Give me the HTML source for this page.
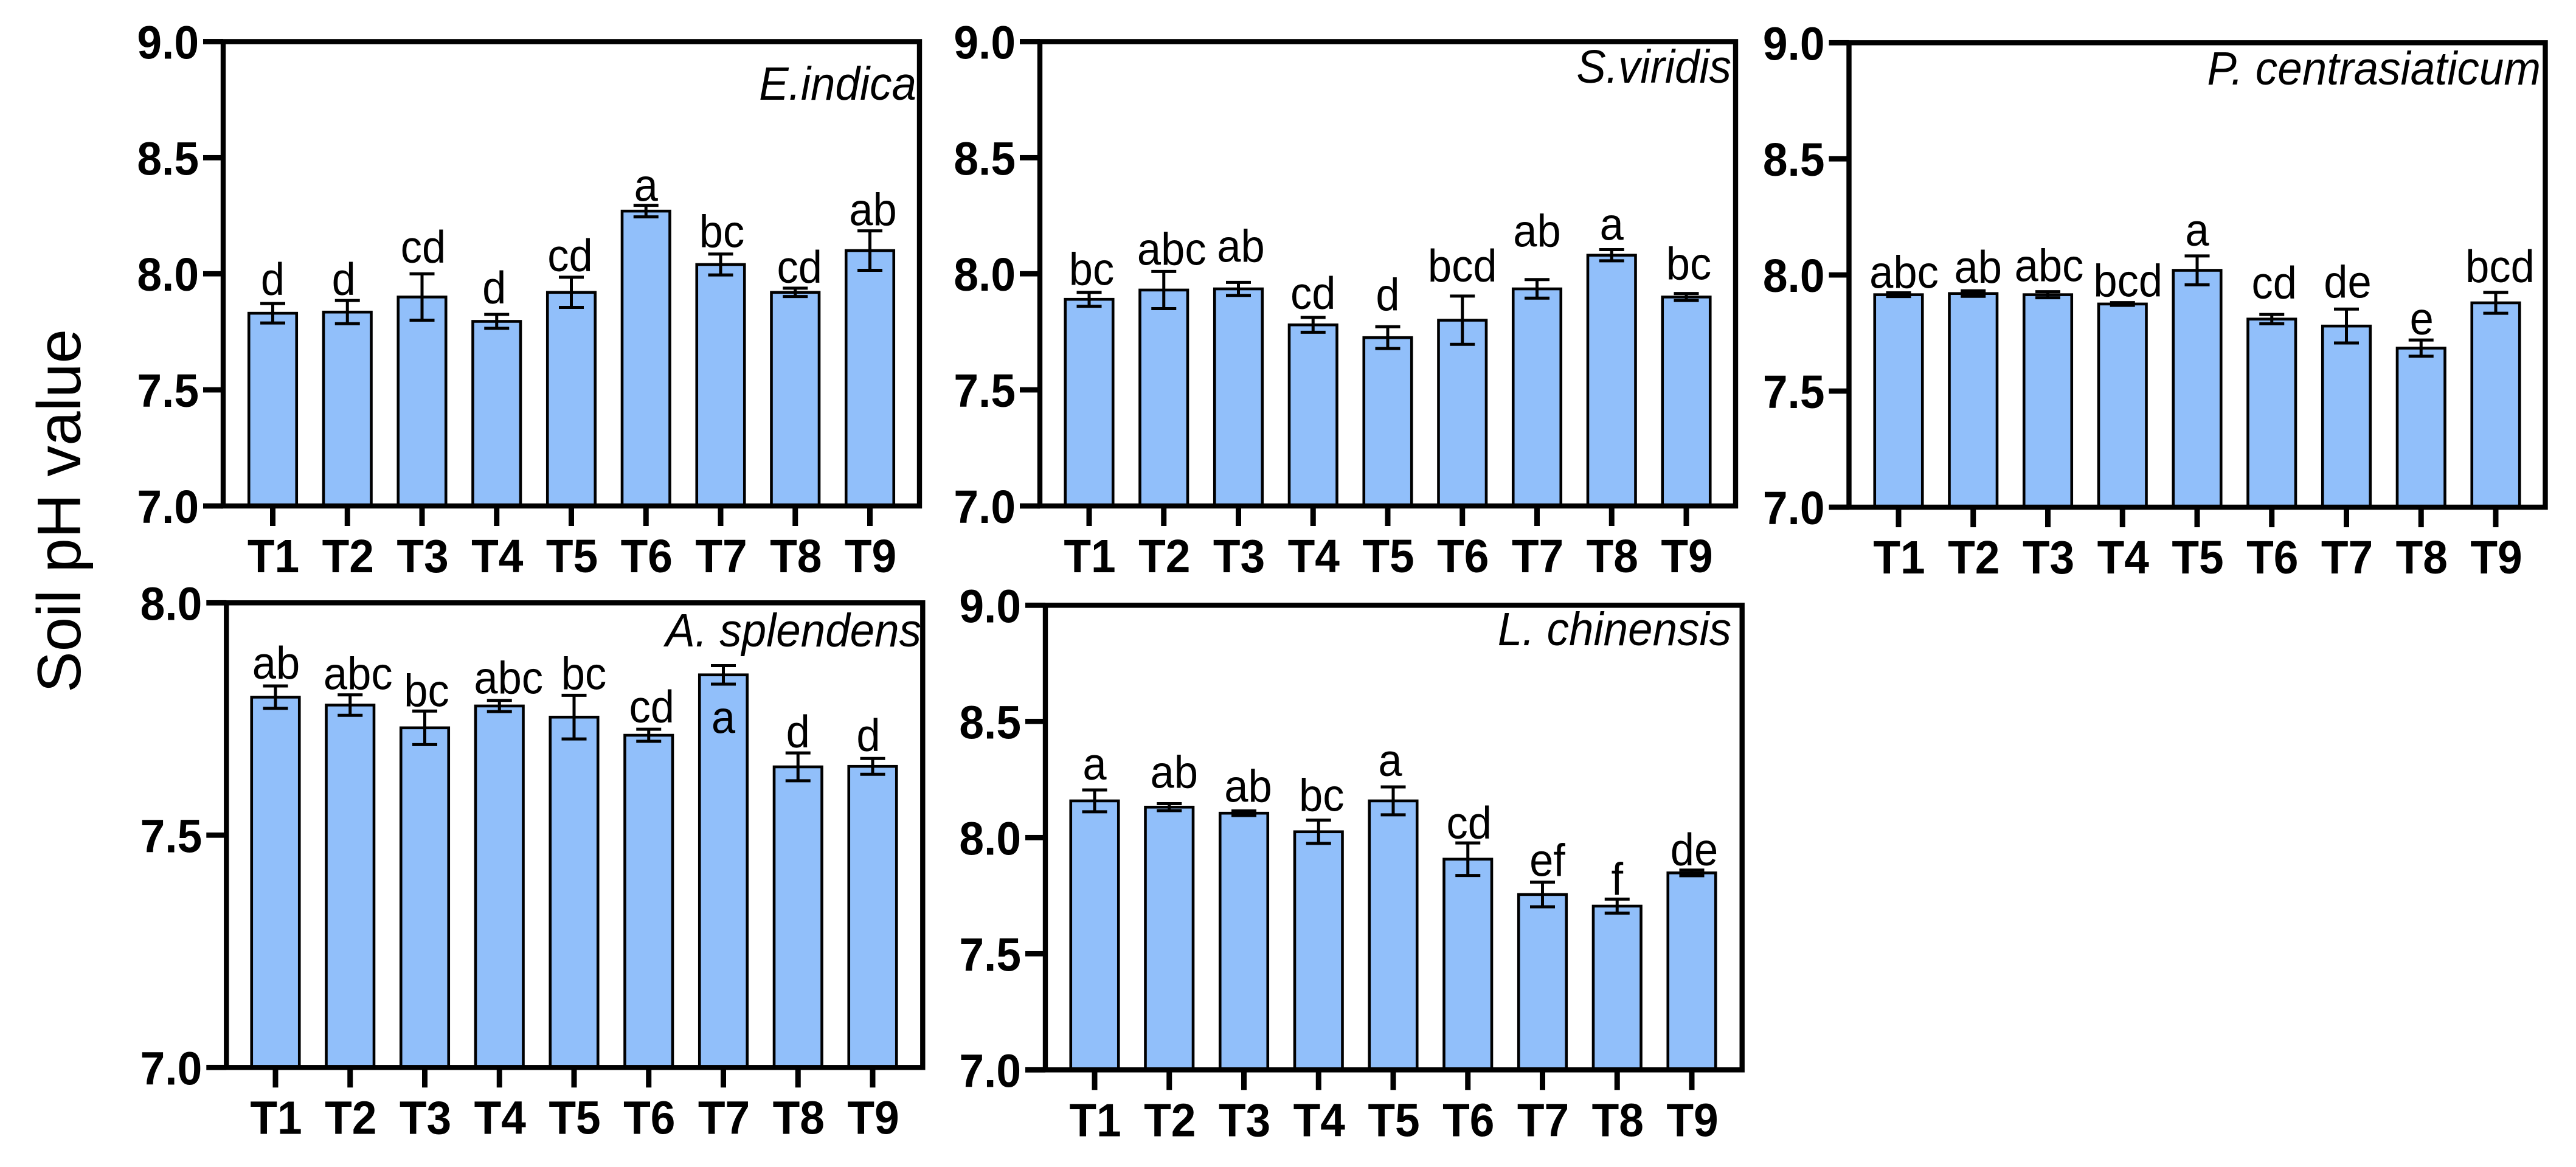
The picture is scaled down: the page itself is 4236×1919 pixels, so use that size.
<!DOCTYPE html>
<html lang="en">
<head>
<meta charset="utf-8">
<title>Soil pH value by treatment</title>
<style>
  html, body { margin: 0; padding: 0; background: #ffffff; }
  body { width: 4236px; height: 1919px; overflow: hidden; }
  svg { display: block; font-family: "Liberation Sans", Arial, sans-serif; }
</style>
</head>
<body>
<svg id="figure" xmlns="http://www.w3.org/2000/svg" width="4236" height="1919" viewBox="0 0 4236 1919">
  <rect x="0" y="0" width="4236" height="1919" fill="#ffffff"/>
  <text transform="translate(132 1139) rotate(-90)" font-size="101.5" fill="#000">Soil pH value</text>
</svg>
<script>
const categories = ['T1', 'T2', 'T3', 'T4', 'T5', 'T6', 'T7', 'T8', 'T9'];

const ticksNineTop = ['7.0', '7.5', '8.0', '8.5', '9.0'];
const ticksEightTop = ['7.0', '7.5', '8.0'];

const eindicaMeans = [7.83, 7.835, 7.90, 7.795, 7.92, 8.27, 8.04, 7.92, 8.10];
const eindicaErrors = [0.042, 0.05, 0.10, 0.03, 0.065, 0.025, 0.045, 0.018, 0.085];
const eindicaLetters = ['d', 'd', 'cd', 'd', 'cd', 'a', 'bc', 'cd', 'ab'];
const eindicaLetterGaps = [14, 9, 18, 18, 10, 7, 11, 9, 9];
const eindicaLetterShifts = [0, -6, 2, -4, -2, 0, 2, 7, 5];

const sviridisMeans = [7.89, 7.93, 7.935, 7.78, 7.725, 7.80, 7.935, 8.08, 7.90];
const sviridisErrors = [0.03, 0.08, 0.028, 0.032, 0.047, 0.104, 0.04, 0.024, 0.015];
const sviridisLetters = ['bc', 'abc', 'ab', 'cd', 'd', 'bcd', 'ab', 'a', 'bc'];
const sviridisLetterGaps = [12, 11, 34, 14, 27, 24, 54, 16, 23];
const sviridisLetterShifts = [4, 13, 4, 0, 0, 0, 0, 0, 4];

const pcentrasiaticumMeans = [7.915, 7.92, 7.915, 7.875, 8.02, 7.81, 7.78, 7.685, 7.88];
const pcentrasiaticumErrors = [0.008, 0.012, 0.013, 0.006, 0.062, 0.02, 0.073, 0.035, 0.045];
const pcentrasiaticumLetters = ['abc', 'ab', 'abc', 'bcd', 'a', 'cd', 'de', 'e', 'bcd'];
const pcentrasiaticumLetterGaps = [8, 13, 17, 10, 17, 26, 19, 9, 17];
const pcentrasiaticumLetterShifts = [9, 8, 2, 9, 0, 4, 2, 1, 7];

const asplendensMeans = [7.797, 7.78, 7.731, 7.778, 7.754, 7.715, 7.845, 7.647, 7.648];
const asplendensErrors = [0.024, 0.022, 0.036, 0.012, 0.047, 0.013, 0.02, 0.03, 0.017];
const asplendensLetters = ['ab', 'abc', 'bc', 'abc', 'bc', 'cd', 'a', 'd', 'd'];
const asplendensLetterGaps = [12, 9, 8, 11, 10, 11, -111, 9, 12];
const asplendensLetterShifts = [1, 13, 3, 15, 16, 5, 0, 0, -7];

const lchinensisMeans = [8.158, 8.131, 8.105, 8.025, 8.158, 7.907, 7.755, 7.705, 7.848];
const lchinensisErrors = [0.047, 0.015, 0.01, 0.05, 0.06, 0.07, 0.053, 0.03, 0.012];
const lchinensisLetters = ['a', 'ab', 'ab', 'bc', 'a', 'cd', 'ef', 'f', 'de'];
const lchinensisLetterGaps = [17, 26, 15, 15, 18, 7, 10, 7, 8];
const lchinensisLetterShifts = [0, 8, 7, 5, -5, 2, 8, 0, 4];

const barFill = '#91bffa';
const ns = 'http://www.w3.org/2000/svg';
const svg = document.getElementById('figure');

function make(parent, tag, attrs, text) {
  const el = document.createElementNS(ns, tag);
  for (const k in attrs) el.setAttribute(k, attrs[k]);
  if (text !== undefined) el.textContent = text;
  parent.appendChild(el);
  return el;
}

function squeezed(x, y, sx) {
  return 'translate(' + x + ' ' + y + ') scale(' + sx + ' 1)';
}

function drawPanel(cfg) {
  const g = make(svg, 'g', {});
  
  

  const yMin = Number(cfg.ticks[0]);
  const yMax = Number(cfg.ticks[cfg.ticks.length - 1]);
  const xPos = i => cfg.firstX + i * cfg.step;
  const yPos = v => cfg.bottom - (v - yMin) / (yMax - yMin) * (cfg.bottom - cfg.top);

  cfg.means.forEach((m, i) => {
    const x = xPos(i);
    const yTop = yPos(m);
    const bar = make(g, 'rect', {
      x: x - 39.25, y: yTop, width: 78.5, height: cfg.bottom - yTop,
      fill: barFill, stroke: '#000', 'stroke-width': 4.6
    });
    
    

    const hi = yPos(m + cfg.errors[i]);
    const lo = yPos(m - cfg.errors[i]);
    const err = make(g, 'path', {
      d: 'M' + (x - 20.5) + ' ' + hi + 'H' + (x + 20.5) +
         'M' + x + ' ' + hi + 'V' + lo +
         'M' + (x - 20.5) + ' ' + lo + 'H' + (x + 20.5),
      fill: 'none', stroke: '#000', 'stroke-width': 5
    });
    
    

    const letter = make(g, 'text', {
      transform: squeezed(x + cfg.shifts[i], hi - cfg.gaps[i], 0.94),
      'font-size': 75, 'text-anchor': 'middle', fill: '#000'
    }, cfg.letters[i]);
    
    

    const tick = make(g, 'rect', {
      x: x - 4.5, y: cfg.bottom, width: 9, height: 33, fill: '#000'
    });
    
    

    const label = make(g, 'text', {
      transform: squeezed(x + 1, cfg.bottom + 109, 0.95),
      'font-size': 77, 'font-weight': 'bold', 'text-anchor': 'middle', fill: '#000'
    }, categories[i]);
    
    
  });

  cfg.ticks.forEach(t => {
    const y = yPos(Number(t));
    const tick = make(g, 'rect', {
      x: cfg.left - 33, y: y - 4.35, width: 33, height: 8.7, fill: '#000'
    });
    
    

    const label = make(g, 'text', {
      transform: squeezed(cfg.left - 40, y + 28, 0.95),
      'font-size': 77, 'font-weight': 'bold', 'text-anchor': 'end', fill: '#000'
    }, t);
    
    
  });

  const frame = make(g, 'rect', {
    x: cfg.left, y: cfg.top, width: cfg.right - cfg.left, height: cfg.bottom - cfg.top,
    fill: 'none', stroke: '#000', 'stroke-width': 8.4, 'stroke-linejoin': 'miter'
  });
  
  

  const title = make(g, 'text', {
    transform: squeezed(cfg.titleX, cfg.titleY, 0.945),
    'font-size': 77, 'font-style': 'italic', 'text-anchor': 'end', fill: '#000'
  }, cfg.title);
  
  
}

drawPanel({ key: 'e-indica', title: 'E.indica', ticks: ticksNineTop,
  means: eindicaMeans, errors: eindicaErrors, letters: eindicaLetters, gaps: eindicaLetterGaps, shifts: eindicaLetterShifts,
  left: 367, right: 1512, top: 68.4, bottom: 832, firstX: 448.5, step: 122.75, titleX: 1507, titleY: 164 });

drawPanel({ key: 's-viridis', title: 'S.viridis', ticks: ticksNineTop,
  means: sviridisMeans, errors: sviridisErrors, letters: sviridisLetters, gaps: sviridisLetterGaps, shifts: sviridisLetterShifts,
  left: 1710, right: 2854, top: 68.4, bottom: 832, firstX: 1791, step: 122.75, titleX: 2847, titleY: 136 });

drawPanel({ key: 'p-centrasiaticum', title: 'P. centrasiaticum', ticks: ticksNineTop,
  means: pcentrasiaticumMeans, errors: pcentrasiaticumErrors, letters: pcentrasiaticumLetters, gaps: pcentrasiaticumLetterGaps, shifts: pcentrasiaticumLetterShifts,
  left: 3040.5, right: 4185.5, top: 70.3, bottom: 834, firstX: 3122, step: 122.75, titleX: 4178, titleY: 139 });

drawPanel({ key: 'a-splendens', title: 'A. splendens', ticks: ticksEightTop,
  means: asplendensMeans, errors: asplendensErrors, letters: asplendensLetters, gaps: asplendensLetterGaps, shifts: asplendensLetterShifts,
  left: 372.3, right: 1517.3, top: 991.3, bottom: 1755.3, firstX: 453, step: 122.75, titleX: 1515, titleY: 1063 });

drawPanel({ key: 'l-chinensis', title: 'L. chinensis', ticks: ticksNineTop,
  means: lchinensisMeans, errors: lchinensisErrors, letters: lchinensisLetters, gaps: lchinensisLetterGaps, shifts: lchinensisLetterShifts,
  left: 1719, right: 2864.7, top: 995.3, bottom: 1759.3, firstX: 1800, step: 122.75, titleX: 2847, titleY: 1061 });
</script>
</body>
</html>
